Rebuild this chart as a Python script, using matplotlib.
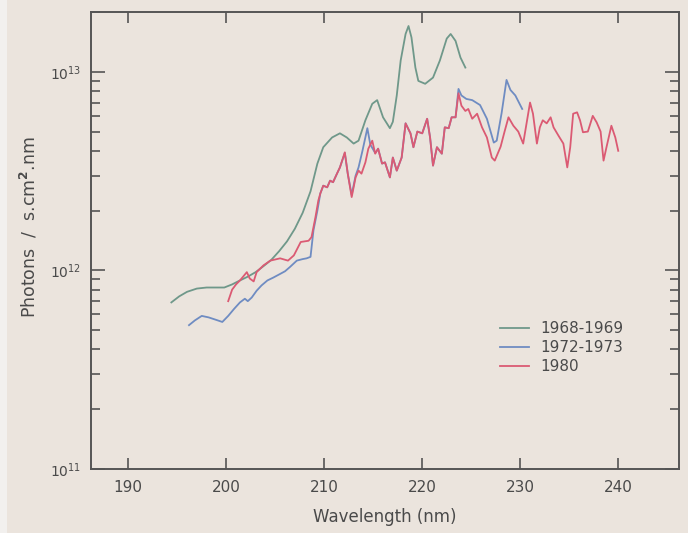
import numpy as np
import matplotlib
matplotlib.use("Agg")
import matplotlib.pyplot as plt
from matplotlib.ticker import LogLocator, FixedLocator, NullFormatter, FixedFormatter
from matplotlib.patches import Rectangle

# ---- data (photon flux in units of 1e12 photons / s.cm^2.nm) ----
green_x = [194.4, 195.2, 196.0, 197.0, 198.0, 199.0, 199.8, 200.6, 201.4, 202.2, 203.0, 203.8, 204.6,
           205.4, 206.2, 207.0, 207.8, 208.6, 209.3, 209.9, 210.8, 211.6, 212.3, 213.0, 213.5, 214.2,
           214.9, 215.4, 216.0, 216.7, 217.0, 217.4, 217.8, 218.3, 218.6, 218.9, 219.3, 219.6, 220.3,
           221.1, 221.8, 222.5, 222.9, 223.4, 223.9, 224.4]
green_y = [0.69, 0.74, 0.78, 0.81, 0.82, 0.82, 0.82, 0.85, 0.89, 0.93, 0.98, 1.05, 1.13, 1.25, 1.40,
           1.62, 1.95, 2.5, 3.45, 4.17, 4.67, 4.9, 4.67, 4.35, 4.5, 5.7, 6.9, 7.2, 5.9, 5.2, 5.6, 7.6,
           11.4, 15.5, 17.0, 14.9, 10.5, 9.0, 8.7, 9.35, 11.4, 14.7, 15.5, 14.3, 11.8, 10.5]

blue_x = [196.2, 196.8, 197.5, 198.2, 198.9, 199.6, 200.2, 200.8, 201.4, 201.9, 202.2, 202.6, 203.1,
          203.6, 204.2, 204.8, 205.5, 206.0, 206.5, 207.2, 207.8, 208.2, 208.6, 208.9, 209.3, 209.6,
          209.9, 210.3, 210.6, 210.9, 211.3, 211.6, 212.1, 212.4, 212.8, 213.2, 213.5, 213.9, 214.4,
          214.7, 215.2, 215.5, 215.9, 216.2, 216.7, 217.0, 217.4, 217.9, 218.3, 218.8, 219.1, 219.5,
          220.0, 220.5, 220.8, 221.1, 221.5, 222.0, 222.3, 222.7, 223.0, 223.4, 223.7, 224.0, 224.5,
          225.1, 225.9, 226.6, 227.3, 227.6, 228.1, 228.6, 229.0, 229.5, 230.2]
blue_y = [0.53, 0.56, 0.59, 0.58, 0.565, 0.55, 0.59, 0.64, 0.69, 0.72, 0.70, 0.73, 0.79, 0.84, 0.89,
          0.92, 0.96, 0.99, 1.04, 1.12, 1.14, 1.15, 1.17, 1.59, 2.0, 2.44, 2.67, 2.62, 2.83, 2.78,
          3.07, 3.3, 3.9, 3.07, 2.4, 3.0, 3.3, 4.0, 5.2, 4.3, 3.9, 4.1, 3.45, 3.5, 2.94, 3.7, 3.18,
          3.7, 5.5, 4.9, 4.17, 5.0, 4.9, 5.8, 4.67, 3.37, 4.17, 3.87, 5.25, 5.2, 5.9, 5.9, 8.2, 7.6,
          7.3, 7.2, 6.8, 5.8, 4.4, 4.5, 6.2, 9.1, 8.1, 7.6, 6.5]

red_x = [200.2, 200.6, 201.0, 201.4, 201.8, 202.1, 202.4, 202.8, 203.1, 203.8, 204.5, 205.5, 206.3,
         206.9, 207.6, 208.4, 208.7, 209.1, 209.4, 209.6, 209.9, 210.3, 210.6, 210.9, 211.3, 211.6,
         212.1, 212.4, 212.8, 213.2, 213.5, 213.8, 214.2, 214.5, 214.9, 215.2, 215.5, 215.9, 216.2,
         216.7, 217.0, 217.4, 217.9, 218.3, 218.8, 219.1, 219.5, 220.0, 220.5, 220.8, 221.1, 221.5,
         222.0, 222.3, 222.7, 223.0, 223.4, 223.7, 224.0, 224.4, 224.7, 225.1, 225.6, 226.1, 226.6,
         227.1, 227.4, 228.0, 228.4, 228.8, 229.3, 229.8, 230.3, 231.0, 231.3, 231.7, 232.0, 232.3,
         232.7, 233.1, 233.4, 233.9, 234.4, 234.8, 235.1, 235.4, 235.8, 236.1, 236.4, 236.9, 237.4,
         237.8, 238.2, 238.5, 238.8, 239.3, 239.7, 240.0]
red_y = [0.70, 0.80, 0.85, 0.89, 0.94, 0.98, 0.91, 0.88, 0.98, 1.06, 1.12, 1.15, 1.12, 1.19, 1.39,
         1.41, 1.47, 1.85, 2.25, 2.44, 2.67, 2.62, 2.83, 2.78, 3.07, 3.3, 3.93, 3.07, 2.34, 2.94,
         3.18, 3.07, 3.5, 4.1, 4.5, 3.87, 4.1, 3.45, 3.5, 2.94, 3.7, 3.18, 3.7, 5.5, 4.9, 4.17, 5.0,
         4.9, 5.8, 4.67, 3.37, 4.17, 3.87, 5.25, 5.2, 5.9, 5.9, 7.8, 6.75, 6.35, 6.5, 5.8, 6.15,
         5.25, 4.67, 3.7, 3.57, 4.2, 5.0, 5.9, 5.35, 5.0, 4.35, 7.0, 6.15, 4.35, 5.25, 5.7, 5.5,
         5.9, 5.25, 4.77, 4.35, 3.3, 4.17, 6.15, 6.25, 5.7, 4.96, 5.0, 6.0, 5.56, 5.0, 3.57, 4.17,
         5.35, 4.67, 4.0]

series_labels = ["1968-1969", "1972-1973", "1980"]
x_ticks = [190, 200, 210, 220, 230, 240]
y_ticks = [1e11, 1e12, 1e13]
y_tick_labels = [r"10$^{11}$", r"10$^{12}$", r"10$^{13}$"]
UNIT = 1e12

BG = "#ebe4dd"
INK = "#4a4a4a"
C_GREEN = "#6f988a"
C_BLUE = "#6f8cc2"
C_RED = "#db5a73"

plt.rcParams["font.family"] = ["DejaVu Sans"]

fig = plt.figure(figsize=(6.88, 5.33), dpi=100, facecolor=BG)
fig.patches.append(Rectangle((0, 0), 7 / 688, 1, transform=fig.transFigure,
                             facecolor="#f2f0ee", edgecolor="none", zorder=-10))
ax = fig.add_axes([91 / 688, 1 - 469 / 533, (679 - 91) / 688, (469 - 12) / 533])
ax.set_facecolor(BG)

lw = 1.3
ax.plot(green_x, np.array(green_y) * UNIT, color=C_GREEN, lw=lw, label=series_labels[0], zorder=3)
ax.plot(blue_x, np.array(blue_y) * UNIT, color=C_BLUE, lw=lw, label=series_labels[1], zorder=4)
ax.plot(red_x, np.array(red_y) * UNIT, color=C_RED, lw=lw, label=series_labels[2], zorder=5)

ax.set_yscale("log")
ax.set_xlim(186.2, 246.2)
ax.set_ylim(1e11, 2e13)

ax.xaxis.set_major_locator(FixedLocator(x_ticks))
ax.set_xticklabels([str(t) for t in x_ticks])
ax.yaxis.set_major_locator(FixedLocator(y_ticks))
ax.yaxis.set_major_formatter(FixedFormatter(y_tick_labels))
ax.yaxis.set_minor_locator(LogLocator(base=10, subs=np.arange(2, 10), numticks=20))
ax.yaxis.set_minor_formatter(NullFormatter())

for s in ax.spines.values():
    s.set_color("#555555")
    s.set_linewidth(1.4)

ax.tick_params(axis="x", which="major", direction="in", top=True, bottom=True,
               length=8, width=1.2, color="#555555", pad=8, labelsize=11, labelcolor=INK)
ax.tick_params(axis="y", which="major", direction="in", left=True, right=True,
               length=10, width=1.2, color="#555555", pad=7, labelsize=10, labelcolor=INK)
ax.tick_params(axis="y", which="minor", direction="in", left=True, right=True,
               length=6.5, width=1.2, color="#555555")

ax.set_xlabel("Wavelength (nm)", fontsize=12, color=INK, labelpad=9)
ax.set_ylabel(r"Photons  /  s.cm$^{\mathbf{2}}$.nm", fontsize=12.5, color=INK)
ax.yaxis.set_label_coords((39 - 91) / 588, (469 - 227) / 457)

leg = ax.legend(loc="upper left", bbox_to_anchor=(500 / 688, 1 - 321 / 533),
                bbox_transform=fig.transFigure, frameon=False, fontsize=11,
                handlelength=1.9, handletextpad=0.75, labelspacing=0.27,
                borderpad=0, borderaxespad=0)
for t in leg.get_texts():
    t.set_color(INK)

fig.savefig("out.png", dpi=100, facecolor=BG)
